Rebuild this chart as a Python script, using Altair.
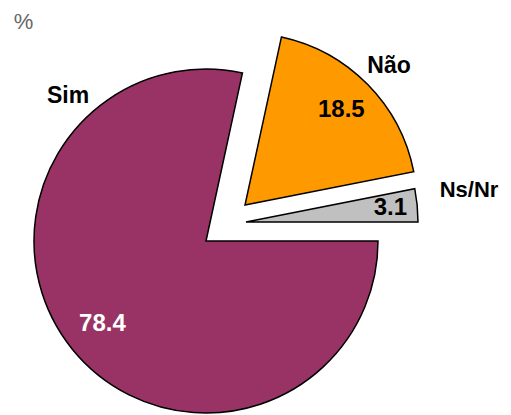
import math
import altair as alt
import pandas as pd

categories = ["Sim", "Não", "Ns/Nr"]
values = [78.4, 18.5, 3.1]
value_labels = ["78.4", "18.5", "3.1"]
order = [0, 1, 2]
colors = ["#993366", "#FF9900", "#C0C0C0"]

df = pd.DataFrame({"cat": categories, "value": values, "label": value_labels, "order": order})

FONT = "Liberation Sans"
R = 172

theta_scale = alt.Scale(domain=[0, 100], range=[math.pi / 2, math.pi / 2 + 2 * math.pi])
color_scale = alt.Scale(domain=categories, range=colors)

base = alt.Chart(df).transform_window(
    cum="sum(value)", sort=[alt.SortField("order")], frame=[None, 0]
).transform_calculate(
    start="datum.cum - datum.value",
    mid="datum.cum - datum.value / 2",
)

# slice: (category, centre x, centre y, label radius, label colour)
slices = [
    ("Sim", 198, 233, 133, "white"),
    ("Não", 237, 197, 135, "black"),
    ("Ns/Nr", 238, 214, 145, "black"),
]

layers = []
for cat, cx, cy, rl, lc in slices:
    b = base.transform_filter(alt.datum.cat == cat)
    arc = b.mark_arc(radius=R, stroke="black", strokeWidth=1.5).encode(
        theta=alt.Theta("start:Q", scale=theta_scale, stack=None),
        theta2="cum:Q",
        color=alt.Color("cat:N", scale=color_scale, legend=None),
        x=alt.value(cx),
        y=alt.value(cy),
    )
    txt = b.mark_text(
        radius=rl, font=FONT, fontSize=24, fontWeight="bold", color=lc,
        align="center", baseline="middle",
    ).encode(
        theta=alt.Theta("mid:Q", scale=theta_scale, stack=None),
        text="label:N",
        x=alt.value(cx),
        y=alt.value(cy),
    )
    layers += [arc, txt]

# category labels
cat_pos = [("Sim", 60, 95, 23), ("Não", 381, 65, 23), ("Ns/Nr", 461, 189, 22)]
for cat, tx, ty, fs in cat_pos:
    layers.append(
        base.transform_filter(alt.datum.cat == cat).mark_text(
            font=FONT, fontSize=fs, fontWeight="bold", color="black",
            align="center", baseline="alphabetic",
        ).encode(text="cat:N", x=alt.value(tx), y=alt.value(ty))
    )

pct = alt.Chart(pd.DataFrame({"t": ["%"]})).mark_text(
    font=FONT, fontSize=22, color="#666666", align="center", baseline="alphabetic"
).encode(text="t:N", x=alt.value(15.5), y=alt.value(21))
layers.append(pct)

chart = alt.layer(*layers).properties(
    width=494, height=406, padding=0, autosize="none", background="white"
).configure_view(stroke=None)

chart.save("out.html", embed_options={"renderer": "svg", "actions": False})
